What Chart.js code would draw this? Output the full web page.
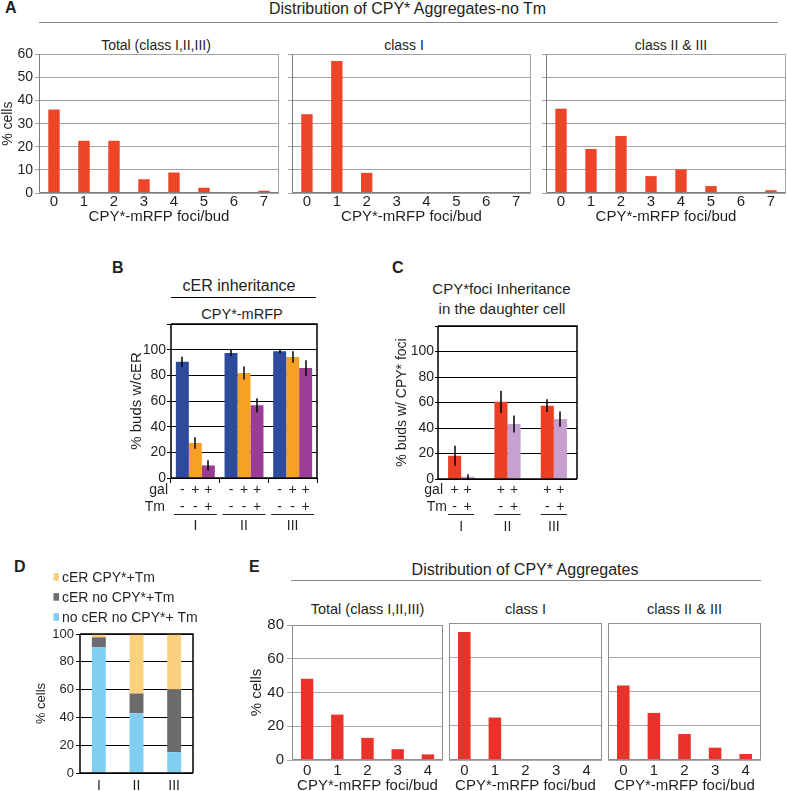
<!DOCTYPE html>
<html>
<head>
<meta charset="utf-8">
<script src="https://cdn.jsdelivr.net/npm/chart.js@4.4.0/dist/chart.umd.min.js"></script>
<style>
body { margin: 0; width: 787px; height: 791px; overflow: hidden; background: #fff; position: relative;
       font-family: "Liberation Sans", Arial, sans-serif; color: #231f20; }
canvas, .t, .rule { position: absolute; }
.t { white-space: nowrap; }
.rule { height: 0; }
</style>
</head>
<body>
<script>
// A: distribution of foci per bud, no Tm
const fociA = ['0', '1', '2', '3', '4', '5', '6', '7'];
const totalA = [36.1, 22.6, 22.6, 6.0, 8.9, 2.3, 0.3, 1.0];
const classIA = [34.0, 57.0, 8.7, 0, 0, 0, 0, 0];
const classIIA = [36.4, 19.0, 24.6, 7.3, 10.2, 3.0, 0.2, 1.2];

// B: cER inheritance
const classes = ['I', 'II', 'III'];
const cerNoGal = [90.5, 97.4, 98.7];
const cerGal = [27.3, 81.8, 94.3];
const cerGalTm = [9.8, 56.6, 85.7];
const cerNoGalErr = [4, 2.5, 1.5];
const cerGalErr = [4.5, 5, 4.5];
const cerGalTmErr = [4, 5.5, 6];

// C: CPY* foci inheritance
const fociNoTm = [18.2, 60.5, 57.5];
const fociTm = [1.8, 43.1, 47];
const fociNoTmErr = [7.8, 8.7, 5];
const fociTmErr = [2, 6.7, 6];

// D: stacked categories (+Tm)
const noCerD = [90.4, 43, 15];
const cerNoCpyD = [7.2, 14.2, 45];
const cerCpyD = [2.4, 42.8, 40];

// E: distribution of foci per bud
const fociE = ['0', '1', '2', '3', '4'];
const totalE = [48.2, 26.9, 13.1, 6.4, 3.3];
const classIE = [74.8, 24.8, 0, 0, 0];
const classIIE = [43.5, 27.5, 15.2, 7.2, 3.5];

const FONT = '"Liberation Sans", Arial, sans-serif';
const INK = '#231f20';
Chart.defaults.font.family = FONT;
Chart.defaults.color = INK;

function text(str, x, base, size, align, bold) {
  const d = document.createElement('div');
  d.className = 't';
  d.textContent = str;
  d.style.fontSize = size + 'px';
  d.style.lineHeight = size + 'px';
  d.style.top = (base - 0.847 * size) + 'px';
  if (bold) d.style.fontWeight = 'bold';
  d.style.left = x + 'px';
  if (align === 'center') d.style.transform = 'translateX(-50%)';
  document.body.appendChild(d);
}

function rule(x0, x1, y, color, w) {
  const d = document.createElement('div');
  d.className = 'rule';
  d.style.left = x0 + 'px';
  d.style.width = (x1 - x0) + 'px';
  d.style.top = y + 'px';
  d.style.borderTop = w + 'px solid ' + color;
  document.body.appendChild(d);
}

const framePlugin = {
  id: 'frame',
  afterDatasetsDraw(chart, args, o) {
    if (!o.color) return;
    const a = chart.chartArea, ctx = chart.ctx;
    const h = o.width === 1 ? 0.5 : 0;
    const L = Math.round(a.left) + h, R = Math.round(a.right) - h, T = Math.round(a.top) + h, B = Math.round(a.bottom) - h;
    ctx.save();
    ctx.lineWidth = o.width;
    ctx.strokeStyle = o.color;
    ctx.beginPath(); ctx.moveTo(L, T); ctx.lineTo(R, T); ctx.lineTo(R, B); ctx.stroke();
    ctx.strokeStyle = o.axis;
    ctx.beginPath(); ctx.moveTo(L, T); ctx.lineTo(L, B); ctx.lineTo(R, B); ctx.stroke();
    ctx.restore();
  }
};

// error bars, read from dataset.errors
const errPlugin = {
  id: 'errs',
  afterDatasetsDraw(chart) {
    const ctx = chart.ctx, y = chart.scales.y;
    ctx.save();
    ctx.strokeStyle = '#000';
    ctx.lineWidth = 1.5;
    chart.data.datasets.forEach((ds, i) => {
      if (!ds.errors) return;
      chart.getDatasetMeta(i).data.forEach((bar, j) => {
        const x = Math.round(bar.x);
        ctx.beginPath();
        ctx.moveTo(x, y.getPixelForValue(ds.data[j] + ds.errors[j]));
        ctx.lineTo(x, y.getPixelForValue(Math.max(0, ds.data[j] - ds.errors[j])));
        ctx.stroke();
      });
    });
    ctx.restore();
  }
};

// gal / Tm condition rows under the bars
const condPlugin = {
  id: 'conds',
  afterDraw(chart, args, o) {
    if (o.galY === undefined) return;
    const ctx = chart.ctx, a = chart.chartArea, b = a.bottom;
    const sets = chart.data.datasets;
    ctx.save();
    ctx.fillStyle = INK;
    ctx.font = '14px ' + FONT;
    ctx.textBaseline = 'alphabetic';
    ctx.textAlign = 'right';
    ctx.fillText('gal', a.left + o.galDX, b + o.galY);
    ctx.fillText('Tm', a.left + o.tmDX, b + o.tmY);
    ctx.textAlign = 'center';
    sets.forEach((ds, i) => {
      chart.getDatasetMeta(i).data.forEach(bar => {
        ctx.fillText(ds.gal, bar.x, b + o.galY);
        ctx.fillText(ds.tm, bar.x, b + o.tmY);
      });
    });
    const first = chart.getDatasetMeta(0).data;
    const last = chart.getDatasetMeta(sets.length - 1).data;
    ctx.strokeStyle = INK;
    ctx.lineWidth = 1;
    first.forEach((bar, j) => {
      const x0 = bar.x - bar.width / 2 - o.ext;
      const x1 = last[j].x + last[j].width / 2 + o.ext;
      ctx.beginPath();
      ctx.moveTo(x0, Math.round(b + o.lineY) + 0.5);
      ctx.lineTo(x1, Math.round(b + o.lineY) + 0.5);
      ctx.stroke();
    });
    ctx.restore();
  }
};

// small stacked key for panel D (top dataset first)
const keyPlugin = {
  id: 'keys',
  afterDraw(chart, args, o) {
    if (o.dx === undefined) return;
    const ctx = chart.ctx, a = chart.chartArea;
    ctx.save();
    ctx.font = '14px ' + FONT;
    ctx.textAlign = 'left';
    ctx.textBaseline = 'alphabetic';
    chart.data.datasets.slice().reverse().forEach((ds, k) => {
      const base = a.top + o.dy + k * o.step;
      ctx.fillStyle = ds.backgroundColor;
      ctx.fillRect(a.left + o.dx, base - 8.5, 5.5, 7.5);
      ctx.fillStyle = INK;
      ctx.fillText(ds.label, a.left + o.dx + 8.5, base);
    });
    ctx.restore();
  }
};

function barChart(o) {
  const padT = o.padT || 10, padR = o.padR === undefined ? 2 : o.padR;
  const L = o.l - o.yW, T = o.t - padT;
  const W = o.r - L + padR, H = o.b + o.xH - T;
  const c = document.createElement('canvas');
  c.width = W; c.height = H;
  c.style.left = L + 'px'; c.style.top = T + 'px';
  c.style.width = W + 'px'; c.style.height = H + 'px';
  document.body.appendChild(c);

  const x = {
    offset: true,
    stacked: !!o.stacked,
    grid: { display: !!o.xTickLen, drawOnChartArea: false, drawTicks: !!o.xTickLen,
            tickLength: o.xTickLen || 0, offset: true, color: o.frame },
    border: { display: false },
    ticks: { padding: o.xPad, font: { size: o.xFont }, maxRotation: 0, autoSkip: false },
    afterFit: s => { s.height = o.xH; s.paddingLeft = 0; s.paddingRight = 0; }
  };
  if (o.xTitle) x.title = { display: true, text: o.xTitle, font: { size: 15 }, padding: 0 };

  const y = {
    min: 0, max: o.yMax,
    stacked: !!o.stacked,
    ticks: { stepSize: o.step, display: o.yLabels !== false, padding: o.yPad || 0,
             font: { size: o.yFont || 14 },
             callback: v => (o.hideTop && v === o.yMax) ? '' : v },
    grid: { color: o.grid, drawTicks: !!o.yTickLen, tickLength: o.yTickLen || 0 },
    border: { display: false },
    afterFit: s => { s.width = o.yW; }
  };
  if (o.yTitle) y.title = { display: true, text: o.yTitle, font: { size: o.yTitleSize },
                            padding: { top: o.yTitlePad, bottom: 0 } };

  return new Chart(c, {
    type: 'bar',
    data: {
      labels: o.labels,
      datasets: o.datasets.map(d => Object.assign({
        borderWidth: 0, categoryPercentage: o.catPct, barPercentage: o.barPct
      }, d))
    },
    options: {
      responsive: false,
      animation: false,
      devicePixelRatio: 1,
      layout: { padding: { top: padT, right: padR, left: 0, bottom: 0 } },
      plugins: {
        legend: { display: false },
        tooltip: { enabled: false },
        frame: { color: o.frame, axis: o.axis || o.frame, width: o.frameW || 1 },
        conds: o.conds || {},
        keys: o.keys || {}
      },
      scales: { x, y }
    },
    plugins: [framePlugin, errPlugin, condPlugin, keyPlugin]
  });
}

// ---------- panel A ----------
text('A', 5, 13.5, 16, 'left', true);
text('Distribution of CPY* Aggregates-no Tm', 407.5, 15, 16, 'center');
rule(39, 778, 21.5, '#8a8a8a', 1.5);
text('Total (class I,II,III)', 156, 50, 14, 'center');
text('class I', 404, 50, 14, 'center');
text('class II & III', 671, 50, 14, 'center');

const aBase = { t: 54, b: 193, xH: 33, yMax: 60, step: 10, yFont: 14, yPad: 2, yTickLen: 4,
  xFont: 15, xPad: 0, xTitle: 'CPY*-mRFP foci/bud', grid: '#a3a3a3', frame: '#a3a3a3',
  axis: '#7d7d7d', catPct: 1, barPct: 0.38, labels: fociA };
barChart(Object.assign({}, aBase, { l: 39, r: 279, yW: 39, yTitle: '% cells', yTitleSize: 14, yTitlePad: 0,
  datasets: [{ data: totalA, backgroundColor: '#ed4528' }] }));
barChart(Object.assign({}, aBase, { l: 292, r: 531, yW: 6, yLabels: false,
  datasets: [{ data: classIA, backgroundColor: '#ed4528' }] }));
barChart(Object.assign({}, aBase, { l: 546, r: 786, yW: 6, yLabels: false, padR: 1,
  datasets: [{ data: classIIA, backgroundColor: '#ed4528' }] }));

// ---------- panel B ----------
text('B', 112, 273.5, 16, 'left', true);
text('cER inheritance', 239, 291.5, 16, 'center');
rule(171, 316, 296.5, '#000', 1.5);
text('CPY*-mRFP', 242, 319, 14.5, 'center');

barChart({ l: 171, r: 317, t: 324, b: 478, yW: 50, xH: 58, yMax: 120, step: 20, hideTop: true,
  yFont: 14, yPad: 1, yTickLen: 4, xFont: 14, xPad: 35, xTickLen: 5,
  yTitle: '% buds w/cER', yTitleSize: 15, yTitlePad: 7,
  grid: '#000', frame: '#000', frameW: 1.5, catPct: 0.8, barPct: 1, labels: classes,
  conds: { galY: 15.5, tmY: 33, lineY: 36, galDX: -3, tmDX: -6, ext: 2 },
  datasets: [
    { data: cerNoGal, errors: cerNoGalErr, backgroundColor: '#2e4a9c', gal: '-', tm: '-' },
    { data: cerGal, errors: cerGalErr, backgroundColor: '#f7a124', gal: '+', tm: '-' },
    { data: cerGalTm, errors: cerGalTmErr, backgroundColor: '#9b3d96', gal: '+', tm: '+' }
  ] });

// ---------- panel C ----------
text('C', 392, 273.5, 16, 'left', true);
text('CPY*foci Inheritance', 501.5, 294, 15, 'center');
text('in the daughter cell', 502, 314, 15, 'center');

barChart({ l: 438, r: 577, t: 326, b: 479, yW: 50, xH: 57, yMax: 120, step: 20, hideTop: true,
  yFont: 14, yPad: 1, yTickLen: 3, xFont: 14, xPad: 40, xTickLen: 0,
  yTitle: '% buds w/ CPY* foci', yTitleSize: 14, yTitlePad: 6,
  grid: '#000', frame: '#000', frameW: 1.5, catPct: 0.565, barPct: 1, labels: classes,
  conds: { galY: 14.5, tmY: 32, lineY: 35, galDX: 5, tmDX: 9, ext: 0 },
  datasets: [
    { data: fociNoTm, errors: fociNoTmErr, backgroundColor: '#ea4126', gal: '+', tm: '-' },
    { data: fociTm, errors: fociTmErr, backgroundColor: '#c8a0d0', gal: '+', tm: '+' }
  ] });

// ---------- panel D ----------
text('D', 14, 572.5, 16, 'left', true);

barChart({ l: 80, r: 193, t: 634, b: 773, yW: 47, xH: 20, padT: 68, padR: 8, yMax: 100, step: 20,
  yFont: 13, yPad: 2, yTickLen: 4, xFont: 14, xPad: 5, stacked: true,
  yTitle: '% cells', yTitleSize: 13, yTitlePad: 1,
  grid: '#000', frame: '#000', frameW: 1.5, catPct: 1, barPct: 0.37, labels: classes,
  keys: { dx: -26.5, dy: -52.3, step: 20 },
  datasets: [
    { label: 'no cER no CPY*+ Tm', data: noCerD, backgroundColor: '#80cff2' },
    { label: 'cER no CPY*+Tm', data: cerNoCpyD, backgroundColor: '#6b6b6d' },
    { label: 'cER CPY*+Tm', data: cerCpyD, backgroundColor: '#fbd07f' }
  ] });

// ---------- panel E ----------
text('E', 249, 572.5, 16, 'left', true);
text('Distribution of CPY* Aggregates', 525, 576, 16, 'center');
rule(291, 761, 580, '#8a8a8a', 1.5);
text('Total (class I,II,III)', 367.5, 614, 14.5, 'center');
text('class I', 525.5, 614, 14.5, 'center');
text('class II & III', 684.5, 614, 14.5, 'center');

const eBase = { t: 623, b: 760, xH: 35, yMax: 80, step: 20, yFont: 15, yPad: 3, yTickLen: 5,
  xFont: 15, xPad: 2, xTitle: 'CPY*-mRFP foci/bud', grid: '#a8a8a8', frame: '#8c8c8c',
  catPct: 1, barPct: 0.41, labels: fociE };
barChart(Object.assign({}, eBase, { l: 292, r: 443, yW: 45, yTitle: '% cells', yTitleSize: 15, yTitlePad: 1,
  datasets: [{ data: totalE, backgroundColor: '#e8322a' }] }));
barChart(Object.assign({}, eBase, { l: 449, r: 602, yW: 4, yLabels: false, yTickLen: 0,
  datasets: [{ data: classIE, backgroundColor: '#e8322a' }] }));
barChart(Object.assign({}, eBase, { l: 608, r: 761, yW: 4, yLabels: false, yTickLen: 0,
  datasets: [{ data: classIIE, backgroundColor: '#e8322a' }] }));
</script>
</body>
</html>
